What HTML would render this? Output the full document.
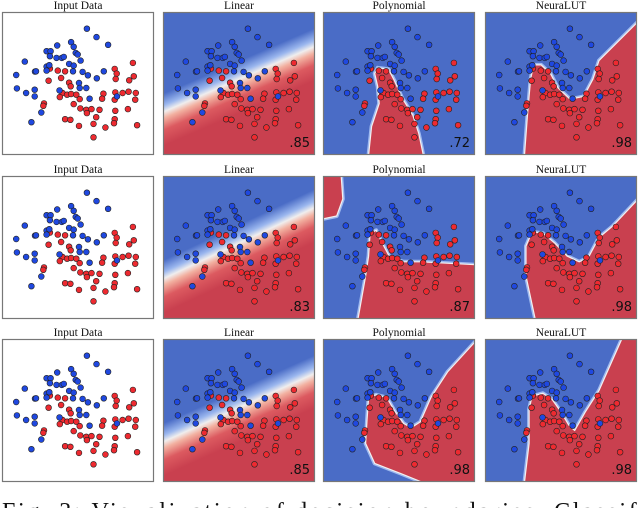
<!DOCTYPE html>
<html><head><meta charset="utf-8"><style>
html,body{margin:0;padding:0;background:#fff;overflow:hidden;}
svg{display:block;}
</style></head><body>
<svg id="fig" width="640" height="508" viewBox="0 0 640 508" xmlns="http://www.w3.org/2000/svg">
<defs id="defs"></defs>
<g id="panels"></g>
<text x="2" y="519" font-family="Liberation Serif, serif" font-size="24" fill="#111" textLength="680" lengthAdjust="spacing">Fig. 3: Visualization of decision boundaries. Classifiers</text>
</svg>
<script>
// ---- data ----
const blueX=[262,291,326,214,222,172,140,152,228,234,74,150,170,186,192,208,222,243,105,108,140,140,220,249,265,292,313,48,50,78,104,104,179,238,240,260,270,124,94,353,148];
const blueY=[88,113,136,128,142,138,155,155,160,165,186,170,175,175,172,193,198,183,216,215,201,213,215,217,227,236,215,226,266,280,270,290,272,250,265,265,297,338,367,290,197];
const redX=[401,346,352,349,404,390,150,174,196,184,146,208,213,188,180,202,214,230,240,312,348,370,388,410,308,346,408,132,222,242,260,262,276,300,348,386,196,212,290,346,344,238,282,318,414,282,130];
const redY=[190,208,222,238,230,242,207,213,215,235,243,249,260,280,292,285,283,285,298,282,278,280,276,280,297,300,300,311,313,326,330,340,328,330,333,328,358,360,352,358,370,378,372,383,376,412,318];
const xDomain=[5,465], yDomain=[38,465];
const titles=["Input Data","Linear","Polynomial","NeuraLUT"];
const scores=[[null,".85",".72",".98"],[null,".83",".87",".98"],[null,".85",".98",".98"]];
const linLeft=[0.70,0.72,0.72], linRight=[0.24,0.22,0.24];
const regions={
 "0-2":[[[0.30,1],[0.32,0.80],[0.37,0.64],[0.36,0.52],[0.34,0.43],[0.36,0.39],[0.43,0.40],[0.47,0.48],[0.52,0.60],[0.59,0.72],[0.63,0.85],[0.66,1]]],
 "0-3":[[[0.26,1],[0.28,0.71],[0.30,0.47],[0.32,0.37],[0.37,0.37],[0.43,0.43],[0.48,0.53],[0.56,0.61],[0.65,0.59],[0.71,0.47],[0.75,0.34],[1,0.075],[1,1]]],
 "1-2":[[[0,0],[0.12,0],[0.13,0.16],[0.09,0.28],[0,0.30]],[[0.23,1],[0.28,0.70],[0.30,0.56],[0.31,0.40],[0.35,0.38],[0.39,0.47],[0.44,0.57],[0.53,0.60],[0.64,0.60],[1,0.62],[1,1]]],
 "1-3":[[[0.33,1],[0.27,0.70],[0.27,0.49],[0.31,0.39],[0.38,0.40],[0.46,0.47],[0.54,0.56],[0.62,0.60],[0.68,0.57],[0.75,0.43],[0.84,0.35],[1,0.17],[1,1]]],
 "2-2":[[[0.65,1],[0.51,0.94],[0.34,0.87],[0.28,0.73],[0.29,0.56],[0.30,0.41],[0.35,0.39],[0.42,0.41],[0.47,0.50],[0.53,0.59],[0.58,0.62],[0.64,0.58],[0.71,0.41],[0.82,0.23],[1,0.02],[1,1]]],
 "2-3":[[[0.26,1],[0.29,0.73],[0.29,0.49],[0.31,0.40],[0.38,0.38],[0.44,0.42],[0.50,0.51],[0.55,0.60],[0.59,0.64],[0.66,0.51],[0.75,0.36],[0.90,0],[1,0],[1,1]]]
};
// ---- layout ----
const colX=[2,163,323,485], rowY=[12,176,339], PW=152, PH=143;
const BLUE="#4a6cc6", RED="#c9404f";
const NS="http://www.w3.org/2000/svg";
const defs=document.getElementById('defs'), root=document.getElementById('panels');
function mk(tag,attrs,parent){const e=document.createElementNS(NS,tag);for(const k in attrs)e.setAttribute(k,attrs[k]);parent.appendChild(e);return e;}
for(let r=0;r<3;r++){for(let c=0;c<4;c++){
  const px=colX[c], py=rowY[r];
  const xs=v=>px+(v-xDomain[0])/(xDomain[1]-xDomain[0])*PW;
  const ys=v=>py+(v-yDomain[0])/(yDomain[1]-yDomain[0])*PH;
  const g=mk('g',{},root);
  
  
  const t=mk('text',{x:px+PW/2,y:py-3,'text-anchor':'middle','font-family':'Liberation Serif, serif','font-size':'11.5',fill:'#111'},g);
  t.textContent=titles[c];
  
  
  const cid='clip'+r+c;
  const cp=mk('clipPath',{id:cid},defs); mk('rect',{x:px,y:py,width:PW,height:PH},cp);
  const bg=mk('g',{'clip-path':'url(#'+cid+')'},g);
  if(c===0){ mk('rect',{x:px,y:py,width:PW,height:PH,fill:'#fff'},bg); }
  else if(c===1){
    const yl=py+linLeft[r]*PH, yr=py+linRight[r]*PH;
    const mx=px+PW/2, my=(yl+yr)/2;
    let nx=yl-yr, ny=PW; const L=Math.hypot(nx,ny); nx/=L; ny/=L;
    const k=60;
    const gid='lg'+r;
    const lg=mk('linearGradient',{id:gid,gradientUnits:'userSpaceOnUse',x1:mx-k*nx,y1:my-k*ny,x2:mx+k*nx,y2:my+k*ny},defs);
    [[0,BLUE],[0.36,BLUE],[0.45,'#9ab6ee'],[0.5,'#f0eeee'],[0.55,'#f2b0a0'],[0.64,'#dc5a60'],[0.76,RED],[1,RED]].forEach(s=>mk('stop',{offset:s[0],'stop-color':s[1]},lg));
    mk('rect',{x:px,y:py,width:PW,height:PH,fill:'url(#'+gid+')'},bg);
  } else {
    mk('rect',{x:px,y:py,width:PW,height:PH,fill:BLUE},bg);
    regions[r+'-'+c].forEach(poly=>{
      const d='M'+poly.map(p=>(px+p[0]*PW).toFixed(1)+','+(py+p[1]*PH).toFixed(1)).join('L')+'Z';
      mk('path',{d:d,fill:'none',stroke:'#9fbaf0',"stroke-width":4,"stroke-linejoin":'round'},bg);
      const rp=mk('path',{d:d,fill:RED,stroke:'#f4f0f0',"stroke-width":1.2,"stroke-linejoin":'round'},bg);
      
      
    });
  }
  for(let i=0;i<redX.length;i++){
    const p=mk('circle',{cx:xs(redX[i]).toFixed(1),cy:ys(redY[i]).toFixed(1),r:2.9,fill:'#ee2a30',stroke:'#222','stroke-width':0.6},bg);
    
    
  }
  for(let i=0;i<blueX.length;i++){
    const p=mk('circle',{cx:xs(blueX[i]).toFixed(1),cy:ys(blueY[i]).toFixed(1),r:2.9,fill:'#1f48e0',stroke:'#222','stroke-width':0.6},bg);
    
    
  }
  if(scores[r][c]){
    const s=mk('text',{x:px+PW-5,y:py+PH-8,'text-anchor':'end','font-family':'DejaVu Sans, sans-serif','font-size':'13',fill:'#111'},g);
    s.textContent=scores[r][c];
    
    
  }
  const b=mk('rect',{x:px+0.5,y:py+0.5,width:PW-1,height:PH-1,fill:'none',stroke:'#777','stroke-width':1.2},g);
  
  
}}
</script>
</body></html>
